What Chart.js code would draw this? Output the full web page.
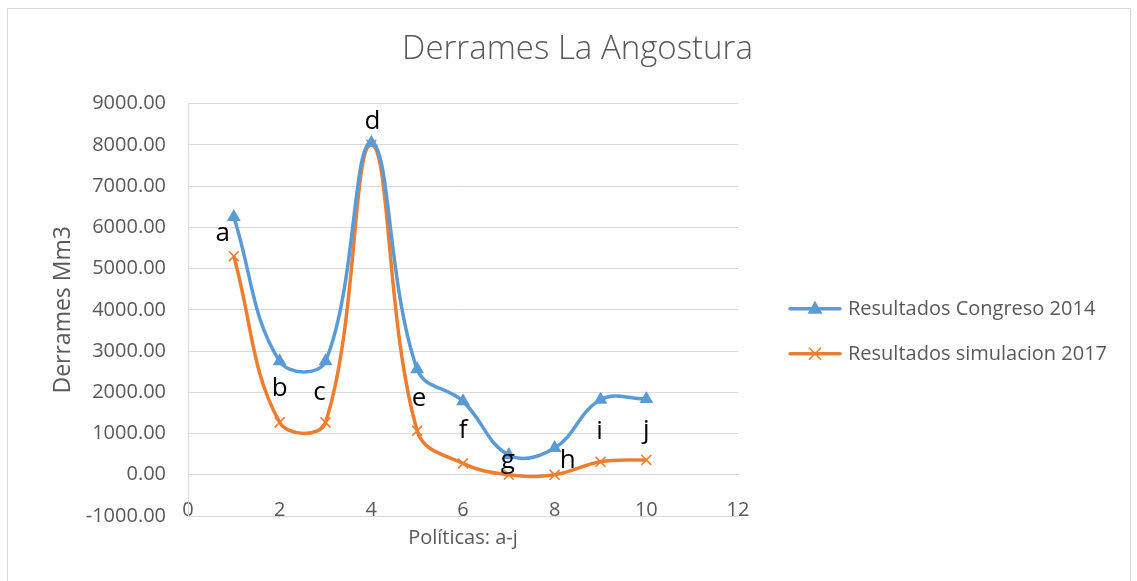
<!DOCTYPE html>
<html>
<head>
<meta charset="utf-8">
<script src="https://cdn.jsdelivr.net/npm/chart.js@4/dist/chart.umd.min.js"></script>
<style>
  html, body { margin: 0; padding: 0; background: #fff; }
  #wrap { position: relative; width: 1137px; height: 581px; }
</style>
</head>
<body>
<div id="wrap"><canvas id="grafico" width="1137" height="581"></canvas></div>
<script>
// datos
const politicas = [1, 2, 3, 4, 5, 6, 7, 8, 9, 10];
const letras = ['a', 'b', 'c', 'd', 'e', 'f', 'g', 'h', 'i', 'j'];
const congreso2014 = [6250, 2750, 2750, 8050, 2560, 1780, 480, 650, 1820, 1840];
const simulacion2017 = [5300, 1270, 1270, 8000, 1065, 275, 0, 0, 315, 360];
const ticksX = [0, 2, 4, 6, 8, 10, 12];
const ticksY = [-1000, 0, 1000, 2000, 3000, 4000, 5000, 6000, 7000, 8000, 9000];

// desplazamiento de cada letra respecto al punto naranja (px)
const desplazLetras = [[-11, -23], [0, -34], [-6, -30], [1, -23], [2, -32], [0, -33], [-1, -14], [13, -14], [-1, -30], [0, -29]];

const AZUL = '#5B9BD5';
const NARANJA = '#ED7D31';
const GRIS = '#595959';
const REJILLA = '#D9D9D9';
const FUENTE = "'Open Sans', 'Noto Sans', sans-serif";

const aPuntos = (valores) => politicas.map((x, i) => ({ x: x, y: valores[i] }));

const marcoPlugin = {
    id: 'marco',
    beforeDraw(chart) {
        const ctx = chart.ctx;
        ctx.save();
        ctx.fillStyle = '#fff';
        ctx.fillRect(0, 0, chart.width, chart.height);
        ctx.strokeStyle = REJILLA;
        ctx.lineWidth = 1;
        ctx.strokeRect(7.5, 8.5, chart.width - 14, chart.height);
        ctx.restore();
    }
};

// leyenda a la derecha: linea con marcador, como en Excel
const leyendaPlugin = {
    id: 'leyenda',
    afterDraw(chart) {
        const ctx = chart.ctx;
        const x0 = chart.chartArea.right + 52;
        const yc = (chart.chartArea.top + chart.chartArea.bottom) / 2;
        ctx.save();
        chart.data.datasets.forEach((ds, i) => {
            const y = yc - 1 + i * 45;
            ctx.strokeStyle = ds.borderColor;
            ctx.lineWidth = 3.5;
            ctx.lineCap = 'round';
            ctx.beginPath(); ctx.moveTo(x0, y); ctx.lineTo(x0 + 50, y); ctx.stroke();
            const cx = x0 + 25;
            if (ds.pointStyle === 'triangle') {
                ctx.fillStyle = ds.borderColor;
                ctx.beginPath(); ctx.moveTo(cx, y - 8); ctx.lineTo(cx + 7.5, y + 5); ctx.lineTo(cx - 7.5, y + 5); ctx.closePath(); ctx.fill();
            } else {
                ctx.lineWidth = 1.6;
                ctx.lineCap = 'butt';
                ctx.beginPath();
                ctx.moveTo(cx - 6, y - 6); ctx.lineTo(cx + 6, y + 6);
                ctx.moveTo(cx + 6, y - 6); ctx.lineTo(cx - 6, y + 6);
                ctx.stroke();
            }
            ctx.fillStyle = GRIS;
            ctx.font = '20px ' + FUENTE;
            ctx.textAlign = 'left';
            ctx.textBaseline = 'middle';
            ctx.fillText(ds.label, x0 + 58, y);
        });
        ctx.restore();
    }
};

const letrasPlugin = {
    id: 'letras',
    afterDatasetsDraw(chart) {
        const meta = chart.getDatasetMeta(1);
        const ctx = chart.ctx;
        ctx.save();
        ctx.font = '26px ' + FUENTE;
        ctx.fillStyle = '#000';
        ctx.textAlign = 'center';
        ctx.textBaseline = 'middle';
        meta.data.forEach((p, i) => {
            ctx.fillText(letras[i], p.x + desplazLetras[i][0], p.y + desplazLetras[i][1]);
        });
        ctx.restore();
    }
};

const ctx = document.getElementById('grafico').getContext('2d');
new Chart(ctx, {
    type: 'line',
    data: {
        datasets: [{
            label: 'Resultados Congreso 2014',
            data: aPuntos(congreso2014),
            borderColor: AZUL,
            backgroundColor: AZUL,
            borderWidth: 3.5,
            tension: 0.4,
            pointStyle: 'triangle',
            pointRadius: 8,
            pointBorderWidth: 0,
            pointBackgroundColor: AZUL
        }, {
            label: 'Resultados simulacion 2017',
            data: aPuntos(simulacion2017),
            borderColor: NARANJA,
            backgroundColor: NARANJA,
            borderWidth: 3.5,
            tension: 0.4,
            pointStyle: 'crossRot',
            pointRadius: 7,
            pointBorderWidth: 1.6,
            pointBorderColor: NARANJA
        }]
    },
    options: {
        responsive: false,
        animation: false,
        layout: { padding: { left: 18, right: 0, top: 0, bottom: 0 } },
        plugins: {
            title: {
                display: true,
                text: 'Derrames La Angostura',
                color: GRIS,
                font: { family: FUENTE, size: 33, weight: '300' },
                padding: { top: 30, bottom: 34 }
            },
            legend: { display: false },
            tooltip: { enabled: false }
        },
        scales: {
            x: {
                type: 'linear',
                position: { y: 0 },
                min: ticksX[0],
                max: ticksX[ticksX.length - 1],
                afterBuildTicks: (s) => { s.ticks = ticksX.map(v => ({ value: v })); },
                grid: { display: false },
                border: { display: true, color: REJILLA, width: 1 },
                ticks: { color: GRIS, font: { family: FUENTE, size: 20 }, padding: 16, maxRotation: 0 }
            },
            x2: {
                type: 'linear',
                position: 'bottom',
                min: ticksX[0],
                max: ticksX[ticksX.length - 1],
                grid: { display: false },
                border: { display: false },
                ticks: { display: false },
                title: {
                    display: true,
                    text: 'Políticas: a-j',
                    color: GRIS,
                    font: { family: FUENTE, size: 20 },
                    padding: { top: 2, bottom: 31 }
                }
            },
            y: {
                min: ticksY[0],
                max: ticksY[ticksY.length - 1],
                afterBuildTicks: (s) => { s.ticks = ticksY.map(v => ({ value: v })); },
                afterFit: (s) => { s.width = 170; },
                grid: { color: REJILLA, lineWidth: 1, drawTicks: false },
                border: { display: true, color: REJILLA, width: 1 },
                ticks: {
                    color: GRIS,
                    font: { family: FUENTE, size: 20 },
                    padding: 22,
                    callback: (v) => Number(v).toFixed(2)
                },
                title: {
                    display: true,
                    text: 'Derrames Mm3',
                    color: GRIS,
                    font: { family: FUENTE, size: 23 },
                    padding: { top: 32, bottom: 0 }
                }
            },
            // eje vacio a la derecha: reserva el espacio de la leyenda
            yLeyenda: {
                position: 'right',
                min: ticksY[0],
                max: ticksY[ticksY.length - 1],
                afterFit: (s) => { s.width = 399; },
                grid: { display: false },
                border: { display: false },
                ticks: { display: false }
            }
        }
    },
    plugins: [marcoPlugin, leyendaPlugin, letrasPlugin]
});
</script>
</body>
</html>
